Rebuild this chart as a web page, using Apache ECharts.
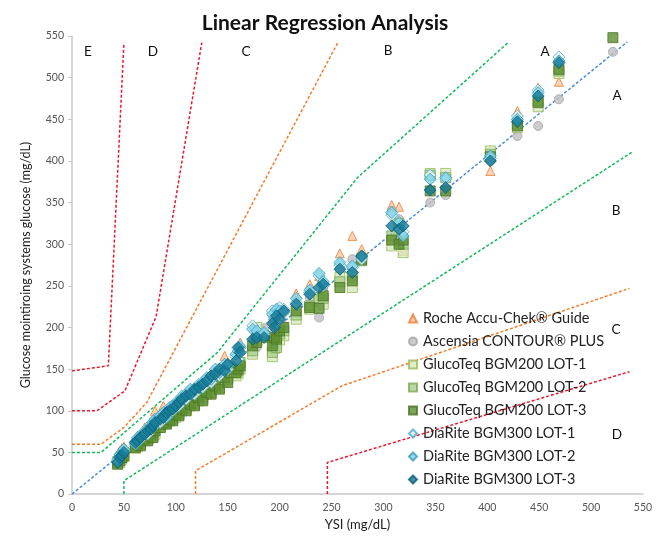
<!DOCTYPE html>
<html><head><meta charset="utf-8">
<script src="https://cdn.jsdelivr.net/npm/echarts@6/dist/echarts.min.js"></script>
<style>html,body{margin:0;padding:0;background:#fff}#c{width:658px;height:536px}</style>
</head><body><div id="c"></div>
<script>
// ---- data ----
const ysi      = [44,46,48,50,61,63,66,70,73,76,78,80,85,88,91,94,97,100,103,106,110,114,118,122,126,130,134,138,142,147,150,158,160,162,174,178,185,193,195,197,200,204,216,229,238,242,258,270,279,308,315,319,345,360,403,429,449,469,521];
const roche    = [48,52,55,57,64,70,66,80,74,86,82,100,92,106,90,104,96,110,100,116,112,122,118,132,124,140,134,148,140,166,150,162,158,182,188,200,196,210,206,218,214,222,241,252,262,250,289,310,294,347,345,292,368,372,388,460,488,495,null];
const ascensia = [40,46,45,52,58,66,62,74,70,80,76,84,82,92,88,98,94,104,100,110,106,118,114,126,122,132,130,140,136,150,144,152,160,158,170,176,199,186,194,190,203,202,230,236,212,248,270,282,286,340,330,312,350,359,400,430,442,474,531];
const gtLot1   = [36,38,42,45,55,57,60,64,66,68,70,72,80,84,85,88,90,92,96,100,102,106,110,112,118,120,124,128,130,136,140,142,145,150,168,200,190,165,175,180,185,190,210,222,232,228,260,248,280,298,318,290,385,385,412,440,465,505,null];
const gtLot2   = [39,43,44,49,58,62,60,68,66,74,70,78,84,88,86,94,90,100,96,106,104,112,108,120,114,128,122,134,128,144,138,150,148,158,172,185,188,170,182,176,192,196,215,226,236,235,255,262,283,310,325,300,383,380,408,445,472,508,null];
const gtLot3   = [36,40,44,46,56,60,58,66,64,72,68,76,80,86,84,90,88,96,94,102,100,108,106,116,112,122,120,130,126,140,134,146,150,154,178,182,190,178,188,186,196,200,220,224,223,238,248,256,281,305,300,305,364,364,405,442,470,510,548];
const drLot1   = [42,45,50,52,62,68,66,76,72,84,80,88,86,96,94,104,100,110,106,118,114,124,120,132,128,138,134,146,142,152,150,165,162,178,202,190,192,220,212,206,224,222,230,242,262,250,275,272,282,335,320,315,383,378,403,454,485,525,null];
const drLot2   = [40,47,47,54,60,66,70,74,78,82,86,90,94,98,92,102,106,108,112,116,120,126,124,130,134,140,138,150,146,156,154,168,172,176,198,196,194,216,210,222,220,218,235,245,265,255,278,274,285,338,326,310,378,380,406,450,482,520,null];
const drLot3   = [38,44,46,50,62,64,68,72,76,78,82,86,90,92,98,100,102,106,110,114,118,120,126,128,132,136,142,144,150,148,156,160,176,170,186,188,188,205,200,214,210,220,228,240,248,252,270,266,286,322,318,322,365,368,400,447,478,518,null];

const seriesNames = ['Roche Accu-Chek\u00ae Guide','Ascensia CONTOUR\u00ae PLUS','GlucoTeq BGM200 LOT-1','GlucoTeq BGM200 LOT-2','GlucoTeq BGM200 LOT-3','DiaRite BGM300 LOT-1','DiaRite BGM300 LOT-2','DiaRite BGM300 LOT-3'];
const seriesValues = [roche, ascensia, gtLot1, gtLot2, gtLot3, drLot1, drLot2, drLot3];

// zone boundary lines (x, y)
const greenUpper  = [[0,50],[28,50],[140,170],[275,380],[420,542]];
const greenLower  = [[50,0],[50,16],[540,411]];
const orangeUpper = [[0,60],[28,60],[50,80],[72,110],[256,542]];
const orangeLower = [[119,0],[119,28],[260,130],[537,247]];
const redCUpper   = [[0,100],[24,100],[51,124],[81,213],[125,542]];
const redCLower   = [[246,0],[246,38],[537,147]];
const redDUpper   = [[0,148],[35,154],[50,542]];
const regression  = [[0,0],[535,543]];

const zoneLabels = ['E','D','C','B','A','A','B','C','D'];

// ---- styles ----
const styles = [
  {symbol:'triangle', size:9,  fill:'#f9c9a6', border:'#ed7d31'},
  {symbol:'circle',   size:9,  fill:'#bfbfbf', border:'#a5a5a5'},
  {symbol:'rect',     size:10, fill:'#d8e9c0', border:'#9bbb59'},
  {symbol:'rect',     size:10, fill:'#a9d18e', border:'#7fa857'},
  {symbol:'rect',     size:10, fill:'#5d8f2e', border:'#4a7425'},
  {symbol:'diamond',  size:12, fill:'#e3f4fa', border:'#4bacc6'},
  {symbol:'diamond',  size:12, fill:'#7fd3ea', border:'#3a9bb8'},
  {symbol:'diamond',  size:12, fill:'#137a98', border:'#0d5e75'}
];

const series = [];
function addLine(pts, color){
  series.push({type:'line', data:pts, showSymbol:false, silent:true, z:1,
    lineStyle:{color:color, width:1.5, type:[3,2]}, animation:false});
}
addLine(greenUpper,'#12b85a');
addLine(greenLower,'#12b85a');
addLine(orangeUpper,'#f47c2c');
addLine(orangeLower,'#f47c2c');
addLine(redCUpper,'#e8192c');
addLine(redCLower,'#e8192c');
addLine(redDUpper,'#e8192c');
addLine(regression,'#4a8ed6');

seriesNames.forEach((n,i)=>{
  const st = styles[i];
  series.push({type:'scatter', name:n, z:2+i,
    data: ysi.map((x,j)=> seriesValues[i][j]==null ? null : [x, seriesValues[i][j]]).filter(d=>d),
    symbol: st.symbol, symbolSize: st.size,
    itemStyle:{color:st.fill, borderColor:st.border, borderWidth:1},
    animation:false});
});

const labelPos = [[88,52],[153,52],[246,52],[388,51],[545,52],[617,96],[616,211],[616,330],[617,435]];
const graphics = zoneLabels.map((t,i)=>({type:'text', x:labelPos[i][0], y:labelPos[i][1],
  style:{text:t, font:'13.5px Lato', fill:'#111', textAlign:'center', textVerticalAlign:'middle'}}));

const chart = echarts.init(document.getElementById('c'), null, {renderer:'canvas'});
chart.setOption({
  animation:false,
  title:{text:'Linear Regression Analysis', left:320, top:8, textAlign:'center',
    textStyle:{fontFamily:'Lato', fontWeight:'bold', fontSize:21, color:'#111'}},
  grid:{left:72, right:15, top:36, bottom:36},
  legend:{orient:'vertical', left:403, top:306, itemGap:8, itemWidth:8, itemHeight:8,
    data:seriesNames.map((n,i)=>({name:n, icon: styles[i].symbol})),
    textStyle:{fontFamily:'Lato', fontSize:14.5, color:'#222', padding:[0,0,0,1]}},
  xAxis:{type:'value', min:0, max:550, interval:50,
    name:'YSI (mg/dL)', nameLocation:'middle', nameGap:21,
    nameTextStyle:{fontFamily:'Lato', fontSize:13, color:'#222'},
    axisLine:{lineStyle:{color:'#c8c8c8', width:1.5}},
    axisTick:{show:false},
    axisLabel:{fontFamily:'Lato', fontSize:10.5, color:'#555', margin:8},
    splitLine:{show:false}},
  yAxis:{type:'value', min:0, max:550, interval:50,
    name:'Glucose mointiroing systems glucose (mg/dL)', nameLocation:'middle', nameGap:40,
    nameTextStyle:{fontFamily:'Lato', fontSize:12.5, color:'#222'},
    axisLine:{show:true, lineStyle:{color:'#c8c8c8', width:1.5}},
    axisTick:{show:true, length:4, lineStyle:{color:'#c8c8c8'}},
    axisLabel:{fontFamily:'Lato', fontSize:10.5, color:'#555', margin:8},
    splitLine:{show:false}},
  graphic:graphics,
  series:series
});
</script></body></html>
